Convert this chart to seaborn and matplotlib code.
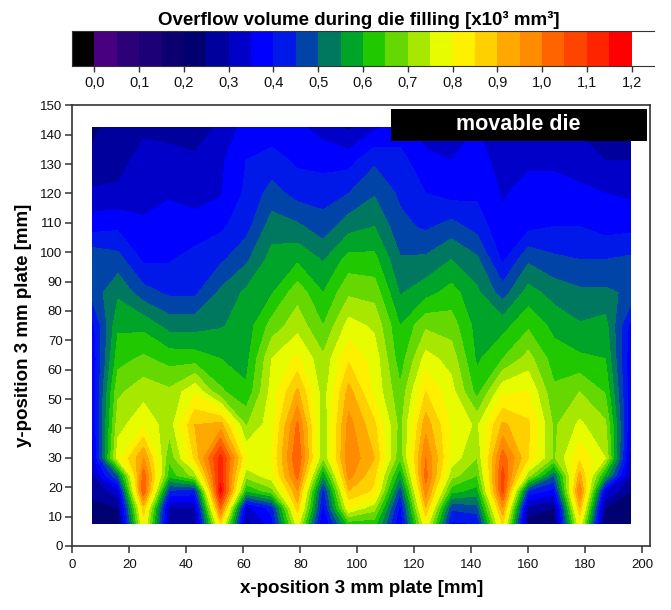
import numpy as np
import matplotlib
matplotlib.use("Agg")
import matplotlib.pyplot as plt
from matplotlib.colors import ListedColormap, BoundaryNorm
from matplotlib.patches import Rectangle
import seaborn as sns

x_mm = [7, 16, 25, 34, 43, 52, 61, 70, 79, 88, 97, 106, 115, 124, 133, 142, 151, 160, 169, 178, 187, 196]
y_mm = [142.5, 131.25, 120, 108.75, 97.5, 86.25, 75, 63.75, 52.5, 41.25, 30, 24, 18.75, 13, 7.5]

r142 = [.24, .27, .29, .28, .27, .31, .37, .37, .36, .33, .29, .34, .37, .33, .33, .35, .31, .30, .31, .29, .27, .25]
r131 = [.26, .28, .32, .32, .31, .34, .40, .42, .39, .38, .38, .44, .42, .36, .35, .37, .33, .34, .34, .33, .30, .30]
r120 = [.31, .31, .33, .345, .33, .345, .41, .47, .43, .43, .45, .495, .44, .40, .38, .39, .345, .37, .37, .36, .35, .34]
r108 = [.38, .39, .36, .37, .37, .39, .43, .525, .51, .47, .53, .55, .465, .44, .47, .43, .36, .385, .40, .40, .38, .385]
r97 = [.49, .47, .39, .395, .42, .44, .49, .57, .59, .545, .62, .615, .505, .51, .55, .51, .39, .49, .46, .45, .45, .46]
r86 = [.47, .54, .47, .44, .44, .51, .56, .595, .68, .60, .69, .68, .545, .58, .62, .56, .475, .57, .53, .51, .51, .49]
r75 = [.38, .59, .585, .53, .53, .545, .57, .67, .73, .65, .77, .74, .60, .69, .675, .58, .58, .64, .585, .555, .57, .38]
r63 = [.36, .63, .66, .63, .625, .60, .58, .75, .81, .71, .84, .78, .62, .77, .73, .59, .65, .72, .625, .61, .60, .36]
r52 = [.36, .69, .73, .71, .79, .66, .61, .77, .91, .72, .92, .79, .66, .85, .77, .63, .79, .80, .66, .70, .645, .36]
r41 = [.35, .73, .79, .72, .90, .92, .695, .78, 1.01, .71, .97, .86, .68, .93, .79, .74, .91, .86, .69, .76, .71, .35]
r30 = [.32, .78, .95, .66, .86, 1.12, .80, .80, 1.05, .70, .99, .90, .66, 1.00, .78, .70, 1.03, .85, .69, .84, .75, .31]
r24 = [.29, .50, 1.03, .62, .72, 1.13, .72, .78, 1.02, .55, .97, .86, .56, 1.02, .72, .65, 1.07, .72, .50, .92, .58, .28]
r18 = [.26, .33, 1.05, .44, .43, 1.17, .60, .68, .95, .42, .90, .84, .46, .98, .62, .58, 1.07, .44, .38, 1.00, .35, .25]
r13 = [.24, .25, .88, .30, .30, 1.02, .33, .42, .88, .38, .80, .72, .38, .90, .46, .48, .95, .28, .25, .90, .25, .22]
r07 = [.22, .20, .82, .28, .27, .85, .27, .38, .78, .33, .62, .62, .35, .80, .39, .40, .85, .22, .22, .80, .20, .21]

level_edges = [-0.05, 0.0, 0.05, 0.1, 0.15, 0.2, 0.25, 0.3, 0.35, 0.4, 0.45, 0.5, 0.55, 0.6, 0.65,
               0.7, 0.75, 0.8, 0.85, 0.9, 0.95, 1.0, 1.05, 1.1, 1.15, 1.2, 1.25]
level_colors = ["#000000", "#480080", "#2c0078", "#1c0078", "#0c0070", "#000070", "#00009c", "#0000c8",
                "#0000ff", "#0018e8", "#0044a8", "#007860", "#00a428", "#20c800", "#64d800", "#a8e800",
                "#e8fc00", "#fff000", "#ffd000", "#ffa800", "#ff8c00", "#ff6400", "#ff4400", "#ff2400",
                "#ff0000", "#ffffff"]
bar_tick_labels = ["0,0", "0,1", "0,2", "0,3", "0,4", "0,5", "0,6", "0,7", "0,8", "0,9", "1,0", "1,1", "1,2"]
x_ticks = list(range(0, 201, 20))
y_ticks = list(range(0, 151, 10))

sns.set_theme(style="ticks")
plt.rcParams["font.family"] = ["Liberation Sans", "DejaVu Sans"]

W, H = 671, 610
fig = plt.figure(figsize=(W / 100, H / 100), dpi=100)


def box(l, t, r, b):
    return [l / W, 1 - b / H, (r - l) / W, (b - t) / H]


cmap = ListedColormap(level_colors)
norm = BoundaryNorm(level_edges, cmap.N)

ax = fig.add_axes(box(72.3, 105.3, 650, 546))
Z = np.array([r142, r131, r120, r108, r97, r86, r75, r63, r52, r41, r30, r24, r18, r13, r07])
ax.contourf(x_mm, y_mm, Z, levels=level_edges, cmap=cmap, norm=norm)
ax.set_xlim(0, 202.7)
ax.set_ylim(0, 150)
ax.set_xticks(x_ticks)
ax.set_yticks(y_ticks)
ax.tick_params(labelsize=9.5, length=5, width=1.1, color="#333333", labelcolor="#111111")
ax.tick_params(axis="x", pad=4)
ax.tick_params(axis="y", pad=2)
for s in ax.spines.values():
    s.set_visible(True)
    s.set_linewidth(1.2)
    s.set_color("#333333")
ax.set_xlabel("x-position 3 mm plate [mm]", fontsize=13.5, fontweight="bold", color="black", labelpad=7)
ax.set_ylabel("y-position 3 mm plate [mm]", fontsize=13.5, fontweight="bold", color="black", labelpad=6)

fig.add_artist(Rectangle((391 / W, 1 - 141 / H), 256 / W, 32 / H, transform=fig.transFigure,
                         facecolor="black", edgecolor="none"))
fig.text(518.5 / W, 1 - 125 / H, "movable die", color="white", fontsize=15.5, fontweight="bold",
         ha="center", va="center")

cax = fig.add_axes(box(72, 31, 654, 66))
strip = np.array([[(level_edges[i] + level_edges[i + 1]) / 2 for i in range(len(level_colors))]])
sns.heatmap(strip, cmap=cmap, norm=norm, cbar=False, ax=cax, xticklabels=False, yticklabels=False,
            linewidths=0)
cax.set_xticks(np.arange(1, 26, 2))
cax.set_xticklabels(bar_tick_labels, rotation=0, fontsize=10.5, color="#111111")
cax.set_yticks([])
cax.tick_params(axis="x", length=4, width=1, color="#333333", pad=3, bottom=True)
for side in ("left", "top", "bottom"):
    cax.spines[side].set_visible(True)
    cax.spines[side].set_linewidth(0.8)
    cax.spines[side].set_color("#333333")
fig.text(358.5 / W, 1 - 20 / H, "Overflow volume during die filling [x10³ mm³]", fontsize=13.5, fontweight="bold",
         color="black", ha="center", va="center")

fig.savefig("out.png", dpi=100)
